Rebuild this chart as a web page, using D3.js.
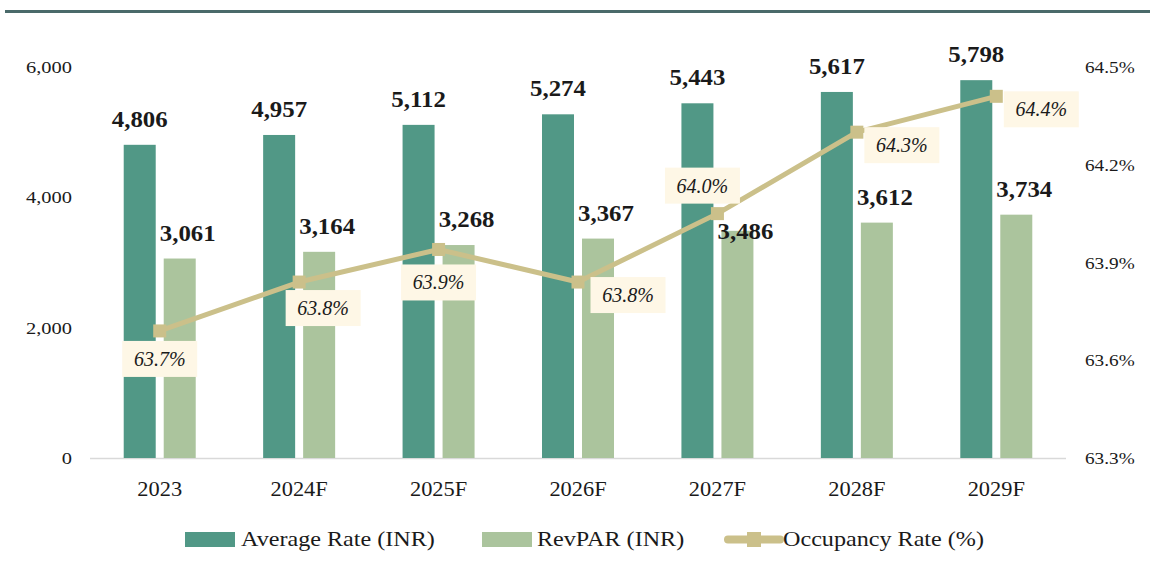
<!DOCTYPE html>
<html>
<head>
<meta charset="utf-8">
<script src="https://cdn.jsdelivr.net/npm/d3@7/dist/d3.min.js"></script>
<style>
  html, body { margin: 0; padding: 0; background: #ffffff; }
  svg { display: block; }
  text { font-family: "Liberation Serif", "Times New Roman", serif; }
</style>
</head>
<body>
<svg id="chart" width="1150" height="573"></svg>
<script>
// ---------- data ----------
const categories = ["2023", "2024F", "2025F", "2026F", "2027F", "2028F", "2029F"];
const averageRate = [4806, 4957, 5112, 5274, 5443, 5617, 5798];
const revPAR = [3061, 3164, 3268, 3367, 3486, 3612, 3734];
const occupancy = [63.69, 63.84, 63.94, 63.84, 64.05, 64.30, 64.41];
const occupancyLabels = ["63.7%", "63.8%", "63.9%", "63.8%", "64.0%", "64.3%", "64.4%"];
const leftTicks = [0, 2000, 4000, 6000];
const rightTicks = [63.3, 63.6, 63.9, 64.2, 64.5];
const seriesNames = ["Average Rate (INR)", "RevPAR (INR)", "Occupancy Rate (%)"];

// ---------- layout / style ----------
const W = 1150, H = 573;
const plot = { left: 90, right: 1066, top: 67, bottom: 458 };
const colors = { avg: "#519886", rev: "#abc49d", occ: "#cbc08a", box: "#fef7e6", rule: "#4a6a6a", base: "#d9d9d9", text: "#1a1a1a" };
// label placement (box centre relative to marker), as in the reference
const occLabelOffset = [[0, 28], [24, 26], [0, 33], [50, 13], [-15, -28], [45, 13], [45, 13]];
const revLabelNudge = [0, 0, 0, 0, 26, 0, 0];

const svg = d3.select("#chart");

// helper: text with a horizontal stretch (the reference face is wider)
function stretchText(sel, x, y, sx) {
  return sel.attr("x", 0).attr("y", 0).attr("transform", `translate(${x},${y}) scale(${sx},1)`);
}

// top rule
svg.append("rect").attr("x", 5).attr("y", 10).attr("width", W - 5).attr("height", 3).attr("fill", colors.rule);

// scales
const x0 = d3.scaleBand().domain(categories).range([plot.left, plot.right]).paddingInner(0).paddingOuter(0);
const groupW = 72;
const x1 = d3.scaleBand().domain(["avg", "rev"]).range([0, groupW]).paddingInner(0.2).paddingOuter(0);
const groupOff = (x0.bandwidth() - groupW) / 2;
const yL = d3.scaleLinear().domain([0, 6000]).range([plot.bottom, plot.top]);
const yR = d3.scaleLinear().domain([63.3, 64.5]).range([plot.bottom, plot.top]);

// left axis labels
const fmt = d3.format(",");
const gL = svg.append("g");
leftTicks.forEach(d => {
  stretchText(gL.append("text"), 72, yL(d), 1.17)
    .attr("dy", "0.35em").attr("text-anchor", "end").attr("font-size", 17.5).attr("fill", colors.text)
    .text(fmt(d));
});

// right axis labels
const gR = svg.append("g");
rightTicks.forEach(d => {
  stretchText(gR.append("text"), 1085, yR(d), 1.1)
    .attr("dy", "0.35em").attr("text-anchor", "start").attr("font-size", 17.5).attr("fill", colors.text)
    .text(d.toFixed(1) + "%");
});

// baseline
svg.append("line").attr("x1", plot.left).attr("x2", plot.right)
  .attr("y1", plot.bottom + 0.5).attr("y2", plot.bottom + 0.5)
  .attr("stroke", colors.base).attr("stroke-width", 1.5);

// bars
const gBars = svg.append("g");
categories.forEach((c, i) => {
  const bx = x0(c) + groupOff;
  gBars.append("rect").attr("x", bx + x1("avg")).attr("width", x1.bandwidth())
    .attr("y", yL(averageRate[i])).attr("height", yL(0) - yL(averageRate[i]))
    .attr("fill", colors.avg);
  gBars.append("rect").attr("x", bx + x1("rev")).attr("width", x1.bandwidth())
    .attr("y", yL(revPAR[i])).attr("height", yL(0) - yL(revPAR[i]))
    .attr("fill", colors.rev);
});

// category labels
const gC = svg.append("g");
categories.forEach(d => {
  stretchText(gC.append("text"), x0(d) + x0.bandwidth() / 2, 496, 1.12)
    .attr("text-anchor", "middle").attr("font-size", 20).attr("fill", colors.text)
    .text(d);
});

// occupancy line
const cx = c => x0(c) + x0.bandwidth() / 2;
const line = d3.line().x((d, i) => cx(categories[i])).y(d => yR(d));
svg.append("path").datum(occupancy).attr("d", line)
  .attr("fill", "none").attr("stroke", colors.occ).attr("stroke-width", 5)
  .attr("stroke-linejoin", "round");
svg.append("g").selectAll("rect").data(occupancy).join("rect")
  .attr("x", (d, i) => cx(categories[i]) - 6.5).attr("y", d => yR(d) - 6.5)
  .attr("width", 13).attr("height", 13).attr("fill", colors.occ);

// bar value labels
const gVal = svg.append("g").attr("font-weight", "bold").attr("font-size", 23).attr("fill", colors.text).attr("text-anchor", "middle");
categories.forEach((c, i) => {
  const bx = x0(c) + groupOff;
  stretchText(gVal.append("text"), bx + x1("avg") + x1.bandwidth() / 2, yL(averageRate[i]) - 18, 1.08)
    .text(fmt(averageRate[i]));
  stretchText(gVal.append("text"), bx + x1("rev") + x1.bandwidth() / 2 + 8, yL(revPAR[i]) - 18 + revLabelNudge[i], 1.08)
    .text(fmt(revPAR[i]));
});

// occupancy labels with boxes
const gOcc = svg.append("g");
occupancy.forEach((v, i) => {
  const mx = cx(categories[i]), my = yR(v);
  const lx = mx + occLabelOffset[i][0], ly = my + occLabelOffset[i][1];
  gOcc.append("rect").attr("x", lx - 37.5).attr("y", ly - 18).attr("width", 75).attr("height", 36)
    .attr("fill", colors.box);
  gOcc.append("text").attr("x", lx).attr("y", ly).attr("dy", "0.35em")
    .attr("text-anchor", "middle").attr("font-style", "italic").attr("font-size", 20)
    .attr("fill", colors.text).text(occupancyLabels[i]);
});

// legend
const lg = svg.append("g").attr("font-size", 21).attr("fill", colors.text);
lg.append("rect").attr("x", 185).attr("y", 532).attr("width", 50).attr("height", 15).attr("fill", colors.avg);
stretchText(lg.append("text"), 241, 546, 1.15).text(seriesNames[0]);
lg.append("rect").attr("x", 482).attr("y", 532).attr("width", 50).attr("height", 15).attr("fill", colors.rev);
stretchText(lg.append("text"), 537, 546, 1.15).text(seriesNames[1]);
lg.append("line").attr("x1", 728).attr("x2", 780).attr("y1", 539.5).attr("y2", 539.5)
  .attr("stroke", colors.occ).attr("stroke-width", 8).attr("stroke-linecap", "round");
lg.append("rect").attr("x", 747).attr("y", 532).attr("width", 14).attr("height", 15).attr("fill", colors.occ);
stretchText(lg.append("text"), 783, 546, 1.15).text(seriesNames[2]);
</script>
</body>
</html>
